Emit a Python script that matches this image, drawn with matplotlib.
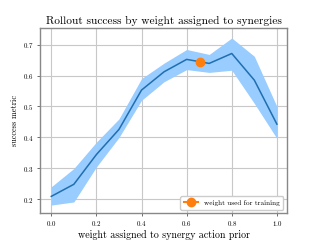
"""
Rollout success vs synergy weight
"""

import matplotlib
matplotlib.use('Agg')
import matplotlib.pyplot as plt

weights = [0.0, 0.1, 0.2, 0.3, 0.4, 0.5, 0.6, 0.7, 0.8, 0.9, 1.0]
success_mean = [0.21, 0.249, 0.345, 0.426, 0.553, 0.612, 0.652, 0.639, 0.671, 0.585, 0.443]
success_low = [0.182, 0.192, 0.305, 0.40, 0.52, 0.58, 0.619, 0.61, 0.617, 0.51, 0.397]
success_high = [0.241, 0.30, 0.385, 0.46, 0.59, 0.64, 0.684, 0.668, 0.721, 0.662, 0.50]
train_weight = 0.66
train_success = 0.643

plt.rcParams['font.family'] = 'serif'
plt.rcParams['font.serif'] = ['cmr10', 'DejaVu Serif']
plt.rcParams['axes.formatter.use_mathtext'] = True
plt.rcParams['mathtext.fontset'] = 'cm'

fig, ax = plt.subplots(figsize=(3.2, 2.4), dpi=100)
fig.subplots_adjust(left=0.125, right=0.897, top=0.883, bottom=0.112)

ax.fill_between(weights, success_low, success_high, color='#99ccff', lw=0)
ax.plot(weights, success_mean, color='#1f6fb0', lw=1.1)
ax.plot([train_weight], [train_success], marker='o', color='#ff7f0e', ms=6,
        ls='-', label='weight used for training')

ax.set_xlim(-0.05, 1.045)
ax.set_ylim(0.156, 0.753)
ax.set_xticks([0.0, 0.2, 0.4, 0.6, 0.8, 1.0])
ax.set_yticks([0.2, 0.3, 0.4, 0.5, 0.6, 0.7])
ax.grid(True, color='#c8c8c8', lw=0.8)
ax.set_axisbelow(True)
ax.tick_params(labelsize=5, length=2.5, width=0.6, color='#555555', pad=2)
for s in ax.spines.values():
    s.set_color('#888888')
    s.set_linewidth(1.0)

ax.set_title('Rollout success by weight assigned to synergies', fontsize=8.2, pad=3)
ax.set_xlabel('weight assigned to synergy action prior', fontsize=7.2, labelpad=1)
ax.set_ylabel('success metric', fontsize=6, labelpad=3)
ax.legend(loc='lower right', fontsize=5.2, framealpha=1, edgecolor='#cccccc',
          handlelength=2, borderpad=0.5)

plt.savefig('out.png', dpi=100)
